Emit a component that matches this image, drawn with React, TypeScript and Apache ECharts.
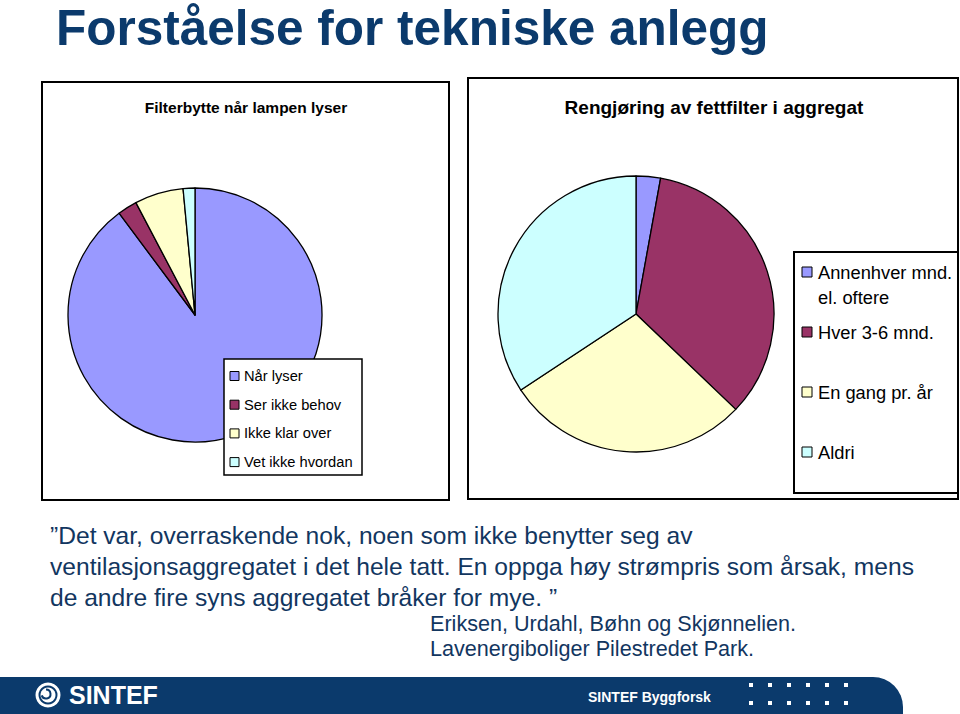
import React, { useEffect, useRef } from "react";
import * as echarts from "echarts";

// ---- data ----
const pageTitle = "Forståelse for tekniske anlegg";

const filterTitle = "Filterbytte når lampen lyser";
const filterCategories = ["Når lyser", "Ser ikke behov", "Ikke klar over", "Vet ikke hvordan"];
const filterValues = [89.8, 2.5, 6.2, 1.5];

const cleaningTitle = "Rengjøring av fettfilter i aggregat";
const cleaningCategories = ["Annenhver mnd.\nel. oftere", "Hver 3-6 mnd.", "En gang pr. år", "Aldri"];
const cleaningValues = [1, 12, 10, 12];

const sliceColors = ["#9999FF", "#993366", "#FFFFCC", "#CCFFFF"];

const quoteLines = [
  "\u201DDet var, overraskende nok, noen som ikke benytter seg av",
  "ventilasjonsaggregatet i det hele tatt. En oppga høy strømpris som årsak, mens",
  "de andre fire syns aggregatet bråker for mye. \u201D",
];
const sourceLines = ["Eriksen, Urdahl, Bøhn og Skjønnelien.", "Lavenergiboliger Pilestredet Park."];
const footerBrand = "SINTEF";
const footerUnit = "SINTEF Byggforsk";

const NAVY = "#0b3a6c";
const FONT = '"Liberation Sans", Arial, Helvetica, sans-serif';

export default function App() {
  const ref = useRef<HTMLDivElement>(null);

  useEffect(() => {
    if (!ref.current) return;
    const chart = echarts.init(ref.current, undefined, { renderer: "svg" });

    const g: any[] = [];

    // page title
    g.push({
      type: "text",
      style: { text: pageTitle, x: 56, y: 27, fill: NAVY, fontSize: 49.5, fontWeight: "bold", fontFamily: FONT, verticalAlign: "middle" },
    });

    // chart boxes
    g.push({ type: "rect", shape: { x: 42, y: 82, width: 407, height: 418 }, style: { fill: "#fff", stroke: "#000", lineWidth: 2 }, z: -10 });
    g.push({ type: "rect", shape: { x: 468, y: 78, width: 490, height: 421 }, style: { fill: "#fff", stroke: "#000", lineWidth: 2 }, z: -10 });

    // chart titles
    g.push({
      type: "text",
      style: { text: filterTitle, x: 246, y: 107, fill: "#000", fontSize: 15.5, fontWeight: "bold", fontFamily: FONT, align: "center", verticalAlign: "middle" },
    });
    g.push({
      type: "text",
      style: { text: cleaningTitle, x: 714, y: 107, fill: "#000", fontSize: 19, fontWeight: "bold", fontFamily: FONT, align: "center", verticalAlign: "middle" },
    });

    // left legend
    g.push({ type: "rect", shape: { x: 224, y: 359, width: 138, height: 116 }, style: { fill: "#fff", stroke: "#000", lineWidth: 1.5 }, z: 20 });
    filterCategories.forEach((name, i) => {
      const cy = 376 + i * 28.7;
      g.push({ type: "rect", z: 21, shape: { x: 230, y: cy - 4.5, width: 9, height: 9 }, style: { fill: sliceColors[i], stroke: "#000", lineWidth: 1 } });
      g.push({ type: "text", z: 21, style: { text: name, x: 244, y: cy, fill: "#000", fontSize: 14.7, fontFamily: FONT, verticalAlign: "middle" } });
    });

    // right legend
    g.push({ type: "rect", shape: { x: 794, y: 252, width: 164, height: 241 }, style: { fill: "#fff", stroke: "#000", lineWidth: 2 }, z: 20 });
    const rightRows = [272, 332, 392, 452];
    cleaningCategories.forEach((name, i) => {
      const cy = rightRows[i];
      g.push({ type: "rect", z: 21, shape: { x: 802, y: cy - 5, width: 10, height: 10 }, style: { fill: sliceColors[i], stroke: "#000", lineWidth: 1 } });
      name.split("\n").forEach((line, j) => {
        g.push({ type: "text", z: 21, style: { text: line, x: 818, y: cy + j * 25, fill: "#000", fontSize: 18.3, fontFamily: FONT, verticalAlign: "middle" } });
      });
    });

    // quote
    quoteLines.forEach((line, i) => {
      g.push({ type: "text", style: { text: line, x: 50, y: 535 + i * 31, fill: "#12365f", fontSize: 24.6, fontFamily: FONT, verticalAlign: "middle" } });
    });
    sourceLines.forEach((line, i) => {
      g.push({ type: "text", style: { text: line, x: 430, y: 623 + i * 25.5, fill: "#12365f", fontSize: 21.6, fontFamily: FONT, verticalAlign: "middle" } });
    });

    // footer band
    g.push({ type: "rect", shape: { x: 0, y: 677, width: 903, height: 37, r: [0, 30, 0, 0] }, style: { fill: NAVY } });
    // logo mark
    g.push({ type: "ring", shape: { cx: 48, cy: 695, r: 12.5, r0: 9.5 }, style: { fill: "#fff" } });
    g.push({ type: "circle", shape: { cx: 48, cy: 695, r: 7.5 }, style: { fill: "#fff" } });
    g.push({ type: "arc", shape: { cx: 46, cy: 694, r: 4.5, startAngle: -Math.PI * 0.5, endAngle: Math.PI * 0.9 }, style: { stroke: NAVY, lineWidth: 2, fill: "none" } });
    g.push({
      type: "text",
      style: { text: footerBrand, x: 69, y: 695, fill: "#fff", fontSize: 25, fontWeight: "bold", fontFamily: FONT, verticalAlign: "middle" },
    });
    g.push({
      type: "text",
      style: { text: footerUnit, x: 588, y: 697, fill: "#fff", fontSize: 14, fontWeight: "bold", fontFamily: FONT, verticalAlign: "middle" },
    });
    for (let r = 0; r < 2; r++) {
      for (let c = 0; c < 6; c++) {
        g.push({ type: "rect", shape: { x: 749 + c * 19, y: 683 + r * 18, width: 4, height: 4 }, style: { fill: "#fff" } });
      }
    }

    const pieBase = {
      type: "pie",
      startAngle: 90,
      clockwise: true,
      label: { show: false },
      labelLine: { show: false },
      emphasis: { disabled: true },
      itemStyle: { borderColor: "#000", borderWidth: 1.3 },
      z: 5,
    };

    chart.setOption({
      animation: false,
      backgroundColor: "#fff",
      graphic: g,
      series: [
        {
          ...pieBase,
          name: filterTitle,
          center: [195, 315],
          radius: 127,
          data: filterCategories.map((n, i) => ({ name: n, value: filterValues[i], itemStyle: { color: sliceColors[i] } })),
        },
        {
          ...pieBase,
          name: cleaningTitle,
          center: [636, 314],
          radius: 138,
          data: cleaningCategories.map((n, i) => ({ name: n, value: cleaningValues[i], itemStyle: { color: sliceColors[i] } })),
        },
      ],
    });

    return () => chart.dispose();
  }, []);

  return <div ref={ref} style={{ position: "fixed", left: 0, top: 0, width: 960, height: 714 }} />;
}
